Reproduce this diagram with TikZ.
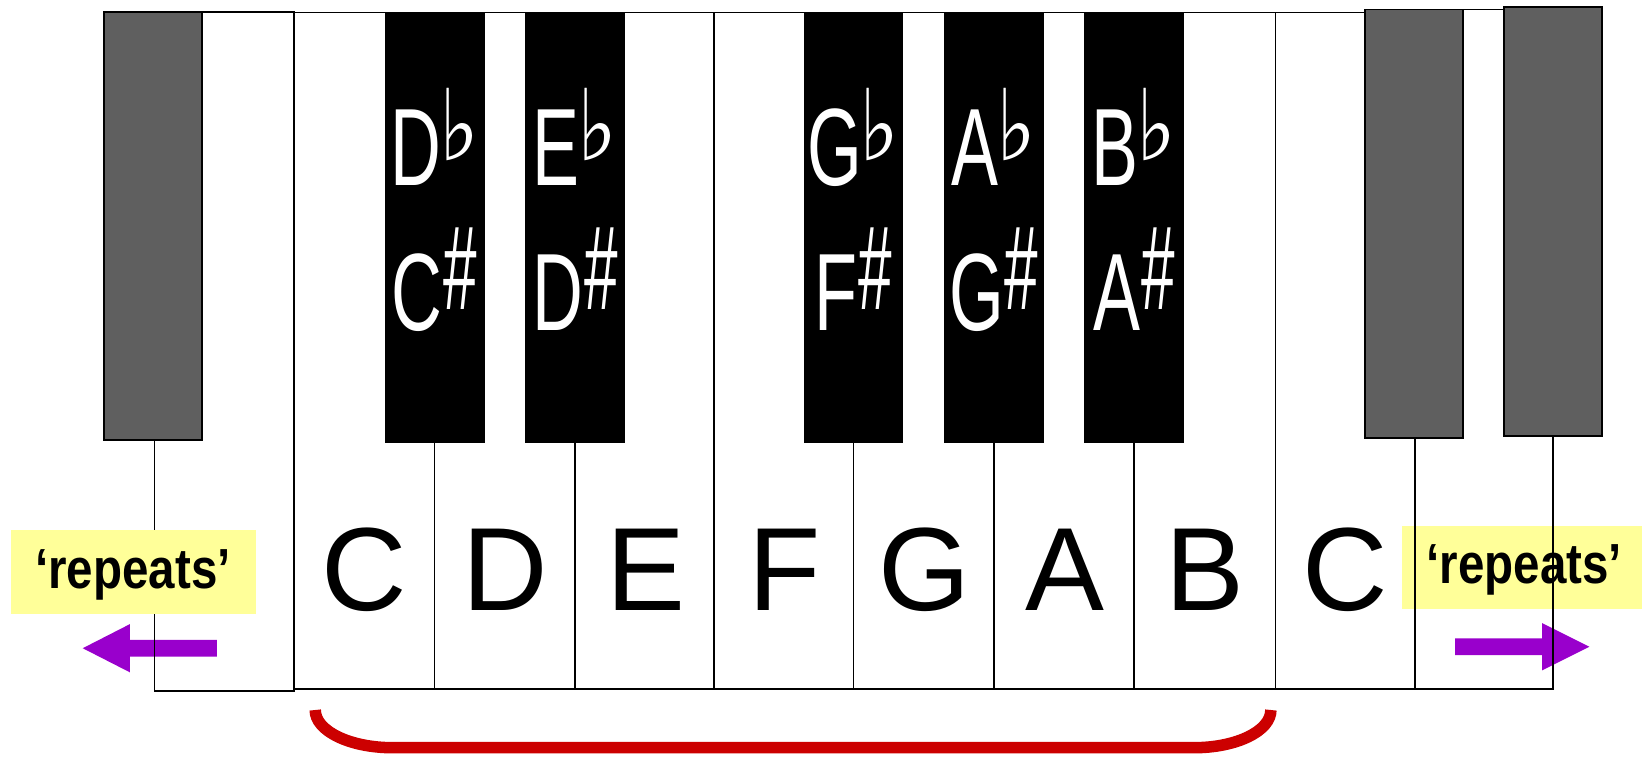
\documentclass[tikz,border=0pt]{standalone}
\usepackage{fontspec}
\usepackage{graphicx}
\setmainfont{Liberation Sans}
\newfontfamily\dejavu{DejaVu Sans}
\definecolor{greykey}{HTML}{5F5F5F}
\definecolor{arrowpurple}{HTML}{9900CC}
\definecolor{bracered}{HTML}{CC0000}
\definecolor{noteyellow}{HTML}{FFFF99}
\newcommand\flt{\raisebox{24pt}{\resizebox{38pt}{69pt}{\dejavu ♭}}}
\newcommand\shp{\raisebox{20pt}{\resizebox{32pt}{78pt}{\#}}}
\newcommand\bkl[1]{\scalebox{0.64}[1]{#1}}
\begin{document}
\begin{tikzpicture}[x=1pt,y=-1pt,
  keyline/.style={line width=1.5pt,line join=miter},
  blackkey/.style={fill=black,draw=black,line width=1.4pt},
  greyk/.style={fill=greykey,draw=black,line width=1.6pt},
  whitelbl/.style={font=\fontsize{113}{113}\selectfont,inner sep=0pt,anchor=base},
  blacklbl/.style={text=white,font=\fontsize{105}{105}\selectfont,inner sep=0pt,anchor=base},
  repeatlbl/.style={font=\bfseries\fontsize{54}{54}\selectfont,inner sep=0pt,anchor=base},
  notebox/.style={fill=noteyellow,draw=none},
  purplearrow/.style={fill=arrowpurple,draw=none},
  brace/.style={draw=bracered,line width=11pt}]
\useasboundingbox (0,0) rectangle (1568,724);
\fill[white] (0,0) rectangle (1568,724);

% right note box (below key lines)
\fill[notebox] (1339,502) rectangle (1568,582);

% purple arrows (below key lines)
\fill[purplearrow] (207,611) -- (124,611) -- (124,596) -- (79,619) -- (124,642) -- (124,627) -- (207,627) -- cycle;
\fill[purplearrow] (1389.5,609.6) -- (1472.6,609.6) -- (1472.6,595) -- (1517.7,617.6) -- (1472.6,640.2) -- (1472.6,625.6) -- (1389.5,625.6) -- cycle;

% white keys
\draw[keyline] (193,11.5) -- (281,11.5) -- (281,660) -- (147.5,660) -- (147.5,420);
\draw[keyline] (281,12) -- (1351,12) -- (1351,658) -- (281,658);
\draw[keyline] (1304,12) -- (1351,12);
\foreach \x in {682,1218} \draw[keyline] (\x,12) -- (\x,658);
\foreach \x in {415,549,815,949,1083} \draw[keyline] (\x,422) -- (\x,658);
\draw[keyline] (1351,658) -- (1483,658) -- (1483,416.5);
\draw[keyline] (1397,9) -- (1436,9);

% black keys
\foreach \x in {415,549,815,949,1083} \draw[blackkey] (\x-47,12) rectangle (\x+47,422);

% grey keys
\draw[greyk] (99.3,11.5) rectangle (193,420);
\draw[greyk] (1303.5,9.2) rectangle (1397,418);
\draw[greyk] (1436,7) rectangle (1530,416.5);

% left note box (above key line)
\fill[notebox] (10.5,506) rectangle (244.5,586);

% labels
\node[repeatlbl] (repL) at (127,562) {\scalebox{0.84}[1]{‘repeats’}};
\node[repeatlbl] (repR) at (1455.5,557) {\scalebox{0.84}[1]{‘repeats’}};

\node[whitelbl] (wC1) at (348,583) {C};
\node[whitelbl] (wD) at (482,583) {D};
\node[whitelbl] (wE) at (617,583) {E};
\node[whitelbl] (wF) at (749,583) {F};
\node[whitelbl] (wG) at (883,583) {G};
\node[whitelbl] (wA) at (1017,583) {A};
\node[whitelbl] (wB) at (1151,583) {B};
\node[whitelbl] (wC2) at (1285,583) {C};

\node[blacklbl] (kDb) at (415,177.6) {\bkl{D}\hspace{-2pt}\flt};
\node[blacklbl] (kEb) at (549,177.6) {\bkl{E}\hspace{-2pt}\flt};
\node[blacklbl] (kGb) at (815,177.6) {\bkl{G}\hspace{-2pt}\flt};
\node[blacklbl] (kAb) at (949,177.6) {\bkl{A}\hspace{-2pt}\flt};
\node[blacklbl] (kBb) at (1083,177.6) {\bkl{B}\hspace{-2pt}\flt};
\node[blacklbl] (kCs) at (415,316) {\bkl{C}\hspace{1pt}\shp};
\node[blacklbl] (kDs) at (549,316) {\bkl{D}\hspace{1pt}\shp};
\node[blacklbl] (kFs) at (815,316) {\bkl{F}\hspace{1pt}\shp};
\node[blacklbl] (kGs) at (949,316) {\bkl{G}\hspace{1pt}\shp};
\node[blacklbl] (kAs) at (1083,316) {\bkl{A}\hspace{1pt}\shp};

% red bracket under the octave
\draw[brace] (301,678) .. controls (301,698) and (334,714) .. (375,714)
  -- (1140,714) .. controls (1181,714) and (1213.6,698) .. (1213.6,678);
\end{tikzpicture}
\end{document}
